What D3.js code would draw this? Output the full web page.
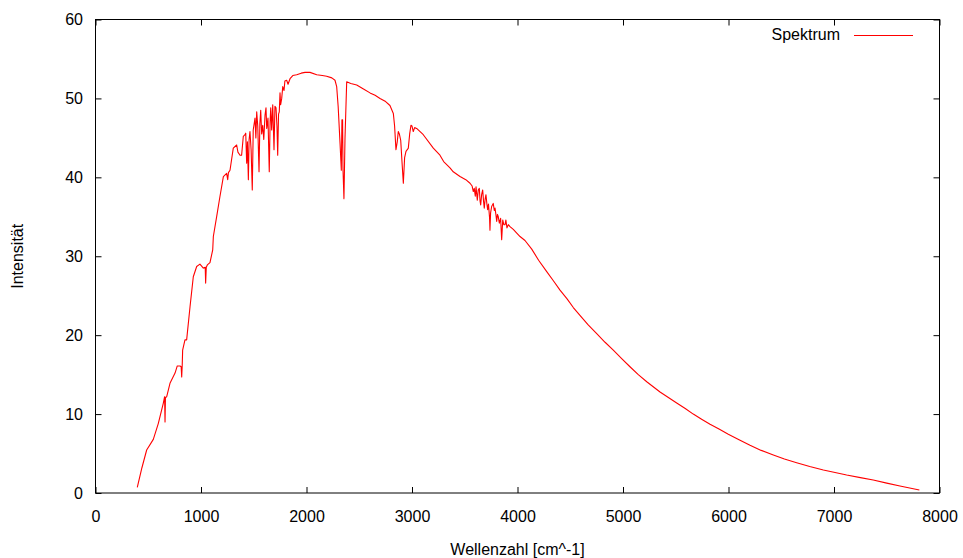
<!DOCTYPE html>
<html lang="de">
<head>
  <meta charset="UTF-8">
  <title>Spektrum</title>
  <style type="text/css">
    body { margin: 0; background: #fff; }
    svg { display: block; font-family: "Liberation Sans", Arial, sans-serif; }
  </style>
  <script src="https://d3js.org/d3.v7.min.js"></script>
</head>
<body>
  <svg></svg>
  <script>
    // Wellenzahl [cm^-1] und Intensitaet
    const wellenzahl = [
      396, 440, 485, 548, 595, 643, 655, 659, 663, 675, 706, 754, 775, 801, 812, 817, 822, 826, 848, 864,
      896, 927, 959, 990, 1022, 1040, 1044, 1050, 1060, 1085, 1111, 1117, 1148, 1180, 1212, 1243, 1253, 1260, 1275, 1306,
      1338, 1350, 1370, 1385, 1401, 1417, 1424, 1433, 1440, 1449, 1456, 1464, 1475, 1486, 1495, 1512, 1520, 1528, 1538, 1550,
      1558, 1566, 1575, 1585, 1595, 1607, 1616, 1623, 1635, 1647, 1655, 1661, 1670, 1680, 1692, 1701, 1711, 1720, 1727, 1735,
      1742, 1749, 1755, 1765, 1775, 1787, 1795, 1812, 1825, 1844, 1870, 1907, 1950, 1986, 2033, 2097, 2150, 2191, 2240, 2270,
      2286, 2300, 2318, 2330, 2336, 2342, 2346, 2355, 2365, 2381, 2420, 2476, 2540, 2602, 2650, 2697, 2750, 2791, 2823, 2835,
      2848, 2860, 2870, 2880, 2893, 2905, 2918, 2930, 2943, 2955, 2965, 2978, 2990, 3000, 3012, 3025, 3044, 3107, 3202, 3265,
      3300, 3360, 3391, 3455, 3510, 3550, 3570, 3581, 3590, 3600, 3607, 3619, 3628, 3638, 3645, 3651, 3660, 3670, 3678, 3685,
      3693, 3701, 3710, 3717, 3725, 3735, 3739, 3745, 3755, 3770, 3780, 3787, 3795, 3803, 3810, 3818, 3828, 3840, 3850, 3860,
      3870, 3882, 3890, 3900, 3913, 3929, 3960, 4024, 4071, 4135, 4200, 4277, 4340, 4403, 4470, 4529, 4592, 4670, 4751, 4830,
      4908, 4990, 5066, 5145, 5225, 5351, 5430, 5509, 5590, 5666, 5745, 5825, 5910, 5998, 6100, 6204, 6310, 6425, 6530, 6646,
      6770, 6899, 7010, 7120, 7250, 7372, 7500, 7625, 7809
    ];
    const intensitaet = [
      0.7, 3.2, 5.45, 6.8, 8.8, 11.4, 12.2, 9.0, 12.1, 12.2, 13.9, 15.2, 16.1, 16.1, 16.0, 14.7, 16.2, 18.1, 19.4, 19.4,
      23.6, 27.4, 28.7, 29.0, 28.5, 28.6, 26.6, 28.6, 28.9, 29.2, 30.8, 32.5, 35.0, 37.6, 40.1, 40.5, 39.7, 40.6, 40.9, 43.7,
      44.1, 43.2, 42.8, 42.8, 45.2, 45.4, 45.6, 41.8, 44.5, 39.7, 44.8, 45.8, 43.5, 38.4, 46.0, 47.5, 45.0, 48.3, 46.5, 40.7,
      46.8, 48.5, 45.5, 46.6, 44.8, 47.9, 48.8, 46.2, 47.5, 40.7, 47.0, 48.8, 46.0, 49.2, 43.5, 49.0, 48.8, 46.5, 42.8, 48.0,
      48.3, 50.7, 49.2, 50.0, 51.5, 51.0, 52.2, 52.3, 51.8, 52.5, 52.9, 53.0, 53.2, 53.3, 53.3, 53.0, 52.9, 52.8, 52.6, 52.3,
      51.5, 49.0, 44.3, 40.9, 47.3, 47.3, 41.0, 37.3, 45.0, 52.1, 51.9, 51.7, 51.2, 50.7, 50.4, 50.0, 49.6, 49.1, 48.1, 46.5,
      43.5, 44.5, 45.8, 45.5, 44.7, 42.0, 39.25, 42.5, 43.3, 43.5, 43.7, 45.5, 46.6, 46.5, 45.8, 46.3, 46.2, 45.4, 43.7, 42.8,
      42.0, 41.2, 40.7, 40.1, 39.7, 39.25, 38.9, 38.2, 38.6, 37.6, 38.8, 37.1, 38.4, 38.6, 37.0, 36.5, 37.8, 38.4, 37.0, 36.1,
      37.2, 37.8, 36.6, 35.9, 36.6, 34.9, 33.3, 35.5, 36.3, 36.7, 35.8, 36.1, 35.3, 34.4, 35.3, 35.0, 34.2, 34.8, 32.1, 34.6,
      34.0, 34.0, 34.6, 33.6, 34.0, 33.75, 33.4, 32.5, 32.0, 30.9, 29.5, 28.05, 26.9, 25.7, 24.6, 23.5, 22.5, 21.3, 20.2, 19.1,
      18.1, 17.0, 16.0, 15.0, 14.1, 12.8, 12.1, 11.4, 10.7, 10.0, 9.35, 8.7, 8.1, 7.45, 6.75, 6.05, 5.4, 4.82, 4.3, 3.84,
      3.35, 2.92, 2.6, 2.28, 1.95, 1.65, 1.25, 0.89, 0.38
    ];
    const xTicks = [0, 1000, 2000, 3000, 4000, 5000, 6000, 7000, 8000];
    const yTicks = [0, 10, 20, 30, 40, 50, 60];

    const W = 963, H = 558;
    const margin = { top: 19.5, left: 95.5, bottom: 65, right: 23.5 };
    const width = W - margin.left - margin.right;
    const height = H - margin.top - margin.bottom;

    const svg = d3.select("svg")
      .attr("width", W)
      .attr("height", H);

    const g = svg.append("g")
      .attr("transform", `translate(${margin.left},${margin.top})`);

    const xScale = d3.scaleLinear().domain([0, 8000]).range([0, width]);
    const yScale = d3.scaleLinear().domain([0, 60]).range([height, 0]);

    const fontSize = 16;
    const fmt = d3.format("d");

    // Achsen (Ticks nach innen, gespiegelt oben und rechts)
    const xAxis = d3.axisBottom(xScale).tickValues(xTicks).tickFormat(fmt).tickSizeInner(-6).tickSizeOuter(0).tickPadding(17.5);
    const yAxis = d3.axisLeft(yScale).tickValues(yTicks).tickFormat(fmt).tickSizeInner(-6).tickSizeOuter(0).tickPadding(12.5);
    const xTop = d3.axisTop(xScale).tickValues(xTicks).tickSizeInner(-6).tickSizeOuter(0).tickFormat("");
    const yRight = d3.axisRight(yScale).tickValues(yTicks).tickSizeInner(-6).tickSizeOuter(0).tickFormat("");

    function style(sel) {
      sel.select(".domain").remove();
      sel.selectAll("line").attr("stroke", "#000");
      sel.selectAll("text").attr("fill", "#000").style("font-size", fontSize + "px");
      sel.attr("font-family", null);
    }

    g.append("g").attr("transform", `translate(0,${height})`).call(xAxis).call(style);
    g.append("g").call(yAxis).call(style);
    g.append("g").call(xTop).call(style);
    g.append("g").attr("transform", `translate(${width},0)`).call(yRight).call(style);

    g.append("rect")
      .attr("width", width)
      .attr("height", height)
      .attr("fill", "none")
      .attr("stroke", "#000")
      .attr("stroke-width", 1);

    // Spektrum
    const data = wellenzahl.map((w, i) => [w, intensitaet[i]]);
    const line = d3.line().x(d => xScale(d[0])).y(d => yScale(d[1]));

    g.append("path")
      .datum(data)
      .attr("fill", "none")
      .attr("stroke", "#ff0000")
      .attr("stroke-width", 1.1)
      .attr("stroke-linejoin", "round")
      .attr("d", line);

    // Legende
    svg.append("text")
      .attr("x", 840)
      .attr("y", 40)
      .attr("text-anchor", "end")
      .style("font-size", fontSize + "px")
      .text("Spektrum");
    svg.append("line")
      .attr("x1", 854).attr("x2", 913)
      .attr("y1", 35.5).attr("y2", 35.5)
      .attr("stroke", "#ff0000")
      .attr("stroke-width", 1.1);

    // Achsentitel
    svg.append("text")
      .attr("x", margin.left + width / 2)
      .attr("y", 555)
      .attr("text-anchor", "middle")
      .style("font-size", fontSize + "px")
      .text("Wellenzahl [cm^-1]");
    svg.append("text")
      .attr("transform", `translate(23,${margin.top + height / 2}) rotate(-90)`)
      .attr("text-anchor", "middle")
      .style("font-size", fontSize + "px")
      .text("Intensität");
  </script>
</body>
</html>
